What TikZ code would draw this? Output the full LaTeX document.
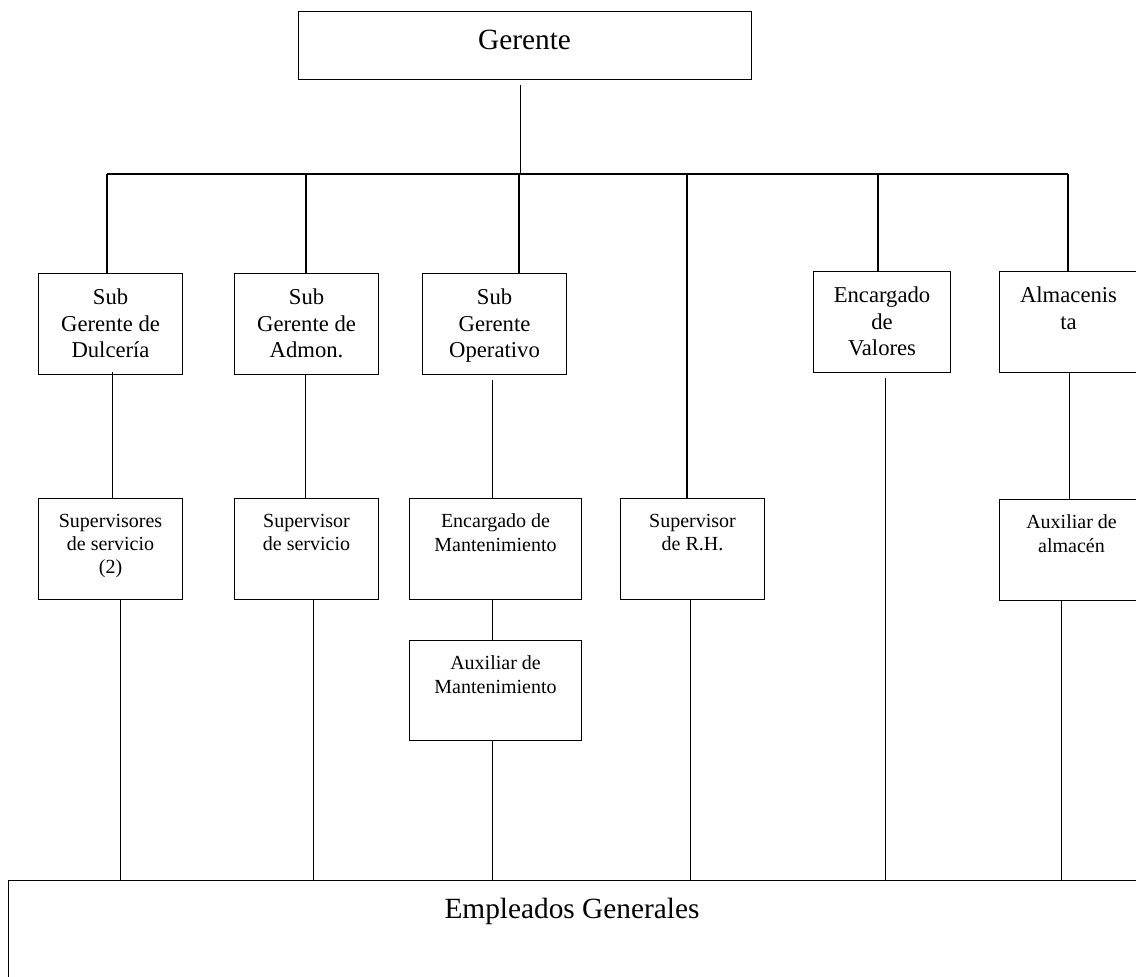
\documentclass[tikz,border=0pt]{standalone}
\usepackage{fontspec}
\setmainfont{Liberation Serif}
\usetikzlibrary{calc}
\begin{document}
\begin{tikzpicture}[x=0.75pt,y=-0.75pt,
  box/.style={draw, line width=0.8pt, inner sep=0pt, anchor=north west},
  wire/.style={draw, line width=0.8pt},
  bigtext/.style={font=\fontsize{22}{26}\selectfont, inner sep=0pt, anchor=base},
  uppertext/.style={font=\fontsize{17}{20}\selectfont, align=center, inner sep=0pt, anchor=north},
  lowertext/.style={font=\fontsize{15}{17.6}\selectfont, align=center, inner sep=0pt, anchor=north}]

\useasboundingbox (0,0) rectangle (1136,977);

% --- boxes ---
\node[box, minimum width=339.75pt, minimum height=51pt] (ger) at (298,11) {};
\node[box, minimum width=108pt, minimum height=75.75pt] (sgd) at (38,273) {};
\node[box, minimum width=108pt, minimum height=75.75pt] (sga) at (234,273) {};
\node[box, minimum width=108pt, minimum height=75.75pt] (sgo) at (422,273) {};
\node[box, minimum width=102.75pt, minimum height=75.75pt] (ev) at (813,271) {};
\node[box, minimum width=109.5pt, minimum height=75.75pt] (alm) at (999,271) {};
\node[box, minimum width=108pt, minimum height=75.75pt] (sup1) at (38,498) {};
\node[box, minimum width=108pt, minimum height=75.75pt] (sup2) at (234,498) {};
\node[box, minimum width=129pt, minimum height=75.75pt] (em) at (409,498) {};
\node[box, minimum width=129pt, minimum height=75pt] (am) at (409,640) {};
\node[box, minimum width=108pt, minimum height=75.75pt] (rh) at (620,498) {};
\node[box, minimum width=109.5pt, minimum height=75.75pt] (aa) at (999,499) {};
\node[box, minimum width=855pt, minimum height=97.5pt] (emp) at (8,880) {};

% --- labels ---
\node[bigtext] (ger-t) at (524.5,50) {Gerente};
\node[uppertext] (sgd-t) at ($(sgd.north)+(0,15.5)$) {Sub\\Gerente de\\Dulcería};
\node[uppertext] (sga-t) at ($(sga.north)+(0,15.5)$) {Sub\\Gerente de\\Admon.};
\node[uppertext] (sgo-t) at ($(sgo.north)+(0,15.5)$) {Sub\\Gerente\\Operativo};
\node[uppertext] (ev-t) at ($(ev.north)+(0,15.5)$) {Encargado\\de\\Valores};
\node[uppertext] (alm-t) at ($(alm.north)+(-4,15.5)$) {Almacenis\\ta};
\node[lowertext] (sup1-t) at ($(sup1.north)+(0,15.5)$) {Supervisores\\de servicio\\(2)};
\node[lowertext] (sup2-t) at ($(sup2.north)+(0,15.5)$) {Supervisor\\de servicio};
\node[lowertext] (em-t) at ($(em.north)+(0,15.5)$) {Encargado de\\Mantenimiento};
\node[lowertext] (am-t) at ($(am.north)+(0,15.5)$) {Auxiliar de\\Mantenimiento};
\node[lowertext] (rh-t) at ($(rh.north)+(0,15.5)$) {Supervisor\\de R.H.};
\node[lowertext] (aa-t) at ($(aa.north)+(-1,15.5)$) {Auxiliar de\\almacén};
\node[bigtext] (emp-t) at (572,918) {Empleados Generales};

% --- bus under the manager ---
\coordinate (b1) at (107,174);
\coordinate (b2) at (306,174);
\coordinate (b3) at (519,174);
\coordinate (b4) at (687,174);
\coordinate (b5) at (878,174);
\coordinate (b6) at (1068,174);
\coordinate (gtop) at ($(ger.south)+(-4.5,5)$);
\path[wire] (gtop) -- (gtop |- b1);
\path[wire] (b1) -- (b6);
\path[wire] (b1) -- (b1 |- sgd.north);
\path[wire] (b2) -- (b2 |- sga.north);
\path[wire] (b3) -- (b3 |- sgo.north);
\path[wire] (b4) -- (b4 |- rh.north);
\path[wire] (b5) -- (b5 |- ev.north);
\path[wire] (b6) -- (b6 |- alm.north);

% --- second level ---
\path[wire] ($(sgd.south)+(2,-3)$) -- ($(sup1.north)+(2,0)$);
\path[wire] ($(sga.south)+(-1,0)$) -- ($(sup2.north)+(-1,0)$);
\path[wire] ($(sgo.south)+(-2,5)$) coordinate (o1) -- (o1 |- em.north);
\path[wire] ($(em.south)+(-3,0)$) coordinate (o2) -- (o2 |- am.north);
\path[wire] ($(alm.south)+(-3,0)$) coordinate (a1) -- (a1 |- aa.north);

% --- drops to the staff box ---
\path[wire] ($(sup1.south)+(10,0)$) coordinate (d1) -- (d1 |- emp.north);
\path[wire] ($(sup2.south)+(7,0)$) coordinate (d2) -- (d2 |- emp.north);
\path[wire] ($(am.south)+(-3,0)$) coordinate (d3) -- (d3 |- emp.north);
\path[wire] ($(rh.south)+(-2,0)$) coordinate (d4) -- (d4 |- emp.north);
\path[wire] ($(ev.south)+(3.5,5)$) coordinate (d5) -- (d5 |- emp.north);
\path[wire] ($(aa.south)+(-11,0)$) coordinate (d6) -- (d6 |- emp.north);

\end{tikzpicture}
\end{document}
